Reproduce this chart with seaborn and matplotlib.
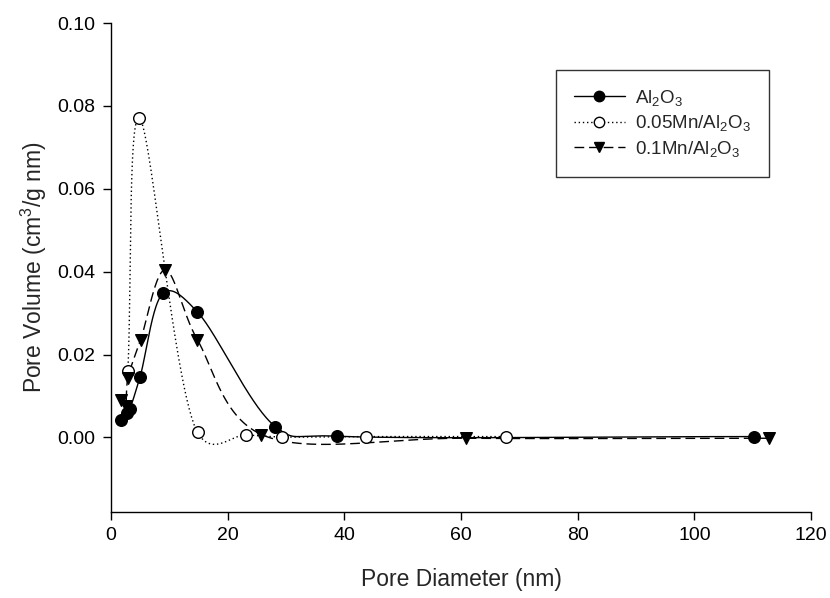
import numpy as np
import pandas as pd
import matplotlib
matplotlib.use("Agg")
import matplotlib.pyplot as plt
from matplotlib.lines import Line2D
import seaborn as sns

# ---- data ----
al_x = [1.8, 2.7, 3.2, 5.0, 9.0, 14.8, 28.2, 38.7, 110.2]
al_y = [0.0043, 0.0059, 0.0068, 0.0147, 0.0349, 0.0303, 0.0026, 0.0003, 0.0002]

mn05_x = [2.9, 4.85, 14.85, 23.2, 29.4, 43.8, 67.8]
mn05_y = [0.0160, 0.0771, 0.0012, 0.0006, 0.0001, 0.0002, 0.0002]

mn1_x = [1.8, 2.5, 2.9, 5.1, 9.25, 14.8, 25.8, 60.9, 112.8]
mn1_y = [0.0091, 0.0075, 0.0143, 0.0236, 0.0404, 0.0236, 0.0007, -0.0002, -0.0002]

labels = ["Al$_2$O$_3$", "0.05Mn/Al$_2$O$_3$", "0.1Mn/Al$_2$O$_3$"]
x_ticks = [0, 20, 40, 60, 80, 100, 120]
y_ticks = [0.00, 0.02, 0.04, 0.06, 0.08, 0.10]


def catmull_rom(x, y, sx=5.835, sy=4150.0, n=60, alpha=0.25):
    """Catmull-Rom curve through the data points (screen-scaled)."""
    P = np.column_stack([np.asarray(x, float) * sx, np.asarray(y, float) * sy])
    P = np.vstack([2 * P[0] - P[1], P, 2 * P[-1] - P[-2]])
    pts = []
    for i in range(1, len(P) - 2):
        p0, p1, p2, p3 = P[i - 1], P[i], P[i + 1], P[i + 2]
        t0 = 0.0
        t1 = t0 + np.linalg.norm(p1 - p0) ** alpha
        t2 = t1 + np.linalg.norm(p2 - p1) ** alpha
        t3 = t2 + np.linalg.norm(p3 - p2) ** alpha
        t = np.linspace(t1, t2, n)[:, None]
        A1 = (t1 - t) / (t1 - t0) * p0 + (t - t0) / (t1 - t0) * p1
        A2 = (t2 - t) / (t2 - t1) * p1 + (t - t1) / (t2 - t1) * p2
        A3 = (t3 - t) / (t3 - t2) * p2 + (t - t2) / (t3 - t2) * p3
        B1 = (t2 - t) / (t2 - t0) * A1 + (t - t0) / (t2 - t0) * A2
        B2 = (t3 - t) / (t3 - t1) * A2 + (t - t1) / (t3 - t1) * A3
        C = (t2 - t) / (t2 - t1) * B1 + (t - t1) / (t2 - t1) * B2
        pts.append(C if i == len(P) - 3 else C[:-1])
    C = np.vstack(pts)
    return C[:, 0] / sx, C[:, 1] / sy


sns.set_style("ticks")
plt.rcParams['font.family'] = ['Liberation Sans', 'DejaVu Sans']
plt.rcParams['mathtext.fontset'] = 'custom'
plt.rcParams['mathtext.rm'] = 'Liberation Sans'
plt.rcParams['mathtext.it'] = 'Liberation Sans'

fig = plt.figure(figsize=(8.3, 5.98), dpi=100)
ax = fig.add_axes([0.1337, 0.1438, 0.8434, 0.8177])

styles = [
    dict(ls='-', marker='o', mfc='black'),
    dict(ls=(0, (1, 2)), marker='o', mfc='white'),
    dict(ls=(0, (7, 3.5)), marker='v', mfc='black'),
]
series = [(al_x, al_y), (mn05_x, mn05_y), (mn1_x, mn1_y)]

handles = []
for (xv, yv), st, lab in zip(series, styles, labels):
    xs, ys = catmull_rom(xv, yv)
    sns.lineplot(x=xs, y=ys, ax=ax, color='black', linewidth=1.0,
                 linestyle=st['ls'], sort=False, estimator=None)
    sns.scatterplot(x=xv, y=yv, ax=ax, marker=st['marker'], s=70,
                    color=st['mfc'], edgecolor='black', linewidth=1.0, zorder=3)
    handles.append(Line2D([0], [0], color='black', lw=1.0, ls=st['ls'],
                          marker=st['marker'], markersize=7.5,
                          markerfacecolor=st['mfc'], markeredgecolor='black'))

ax.set_xlim(0, 120)
ax.set_ylim(-0.018, 0.10)
ax.set_xticks(x_ticks)
ax.set_xticklabels([str(t) for t in x_ticks])
ax.set_yticks(y_ticks)
ax.set_yticklabels([f"{t:.2f}" for t in y_ticks])
ax.tick_params(direction='out', length=6, width=1, labelsize=14, colors='black', pad=5)
for s in ['top', 'right']:
    ax.spines[s].set_visible(False)
for s in ['left', 'bottom']:
    ax.spines[s].set_linewidth(1.0)
    ax.spines[s].set_color('black')

ax.set_xlabel("Pore Diameter (nm)", fontsize=16.5, labelpad=17)
ax.set_ylabel("Pore Volume (cm$^{3}$/g nm)", fontsize=16.5, labelpad=6)

leg = ax.legend(handles, labels, loc='upper left', bbox_to_anchor=(0.636, 0.904),
                fontsize=13.5, frameon=True, fancybox=False, edgecolor='black',
                handlelength=2.7, handletextpad=0.55, borderpad=0.95,
                labelspacing=0.3, numpoints=1, borderaxespad=0)
leg.get_frame().set_linewidth(1.0)

fig.savefig("out.png", dpi=100)
